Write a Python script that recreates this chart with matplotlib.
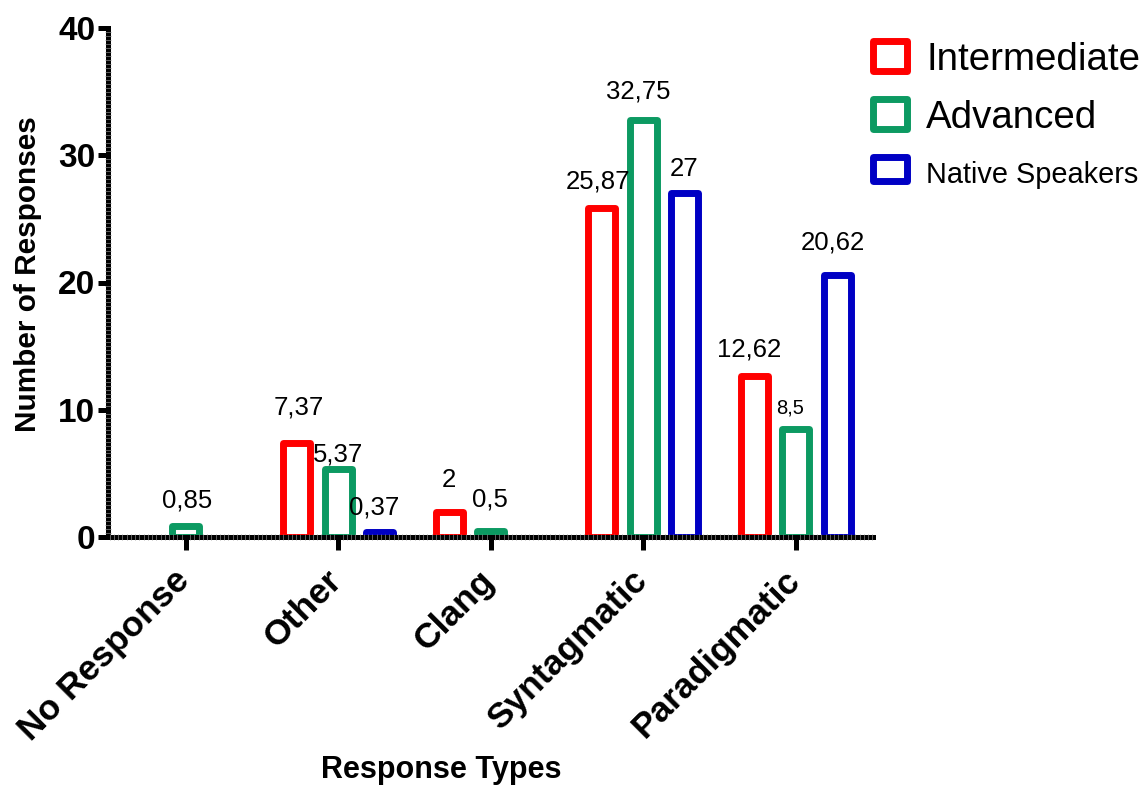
import numpy as np
import matplotlib
matplotlib.use("Agg")
import matplotlib.pyplot as plt
from matplotlib.patches import Rectangle
from matplotlib.ticker import MultipleLocator
from matplotlib.transforms import ScaledTranslation

plt.rcParams['font.family'] = ['Liberation Sans', 'DejaVu Sans']

categories = ["No Response", "Other", "Clang", "Syntagmatic", "Paradigmatic"]
series_names = ["Intermediate", "Advanced", "Native Speakers"]
intermediate = [0, 7.37, 2, 25.87, 12.62]
advanced = [0.85, 5.37, 0.5, 32.75, 8.5]
native = [0, 0.37, 0, 27, 20.62]
value_labels = [
    ["", "7,37", "2", "25,87", "12,62"],
    ["0,85", "5,37", "0,5", "32,75", "8,5"],
    ["", "0,37", "", "27", "20,62"],
]

colors = ["#FF0000", "#0C9A62", "#0000C4"]

# label offsets (pixels) from bar top centre
label_offsets = [
    [(0, 0), (2, 29), (-1, 25), (-4, 19), (-5, 20)],
    [(1.5, 19), (0, 7), (-1, 24), (-5, 22), (-6, 15)],
    [(0, 0), (-6, 18), (0, 0), (-0.5, 17), (-4.5, 25)],
]
label_sizes = [
    [18.5, 18.5, 18.5, 18.5, 18.5],
    [18.5, 18.5, 18.5, 18.5, 14.5],
    [18.5, 18.5, 18.5, 18.5, 18.5],
]

W, H = 1143, 785
fig = plt.figure(figsize=(W / 100, H / 100), dpi=100)
ax = fig.add_axes([108 / W, 1 - 537 / H, 765 / W, 509 / H])

series = [intermediate, advanced, native]
offsets = [-0.272, 0.0, 0.272]
bar_w = 0.177
lw = 5.0
x = np.arange(len(categories))

for si, vals in enumerate(series):
    vals = np.array(vals, dtype=float)
    mask = vals > 0
    bars = ax.bar(x[mask] + offsets[si], vals[mask], width=bar_w,
                  facecolor="white", edgecolor=colors[si], linewidth=lw, zorder=1)
    for b in bars:
        b.set_joinstyle("round")
    for ci in range(len(categories)):
        if vals[ci] > 0 and value_labels[si][ci]:
            dx, dy = label_offsets[si][ci]
            ax.annotate(value_labels[si][ci], xy=(x[ci] + offsets[si], vals[ci]),
                        xytext=(dx, dy), textcoords="offset pixels",
                        ha="center", va="baseline",
                        fontsize=label_sizes[si][ci], color="black",
                        annotation_clip=False)

ax.set_xlim(-0.511, 4.505)
ax.set_ylim(0, 40)

for side in ["top", "right"]:
    ax.spines[side].set_visible(False)
for side in ["left", "bottom"]:
    ax.spines[side].set_linewidth(3.6)
    ax.spines[side].set_color("black")
    ax.spines[side].set_capstyle("projecting")

ax.set_yticks([0, 10, 20, 30, 40])
ax.yaxis.set_minor_locator(MultipleLocator(10 / 32))
ax.tick_params(axis="y", which="major", direction="out", length=7, width=3.6,
               labelsize=24, pad=2)
ax.tick_params(axis="y", which="minor", direction="inout", length=5, width=0.5,
               color="#888888")
for t in ax.get_yticklabels():
    t.set_fontweight("bold")

ax.set_xticks(x)
ax.xaxis.set_minor_locator(MultipleLocator(1 / 36))
ax.tick_params(axis="x", which="major", direction="out", length=9, width=3.6,
               labelsize=25.5, pad=14)
ax.tick_params(axis="x", which="minor", direction="inout", length=5, width=0.5,
               color="#888888")
ax.set_xticklabels(categories, rotation=45, ha="right", va="top",
                   rotation_mode="anchor", fontweight="bold")
shift = ScaledTranslation(-13 / 100, 5 / 100, fig.dpi_scale_trans)
for t in ax.get_xticklabels():
    t.set_transform(t.get_transform() + shift)
ax.xaxis.set_zorder(3)
ax.yaxis.set_zorder(3)

fig.text(28 / W, 1 - 274 / H, "Number of Responses", rotation=90,
         ha="center", va="center", fontsize=21.4, fontweight="bold")
fig.text(441 / W, 1 - 778 / H, "Response Types", ha="center", va="baseline",
         fontsize=22, fontweight="bold")

# legend
leg_boxes = [(40.5, 70.5), (98.5, 128.5), (156.5, 180.5)]
leg_base = [70, 128, 183]
leg_sizes = [27.7, 27.7, 20.8]
for i, name in enumerate(series_names):
    top, bot = leg_boxes[i]
    r = Rectangle((872.5 / W, 1 - bot / H), 34 / W, (bot - top) / H,
                  transform=fig.transFigure, facecolor="white",
                  edgecolor=colors[i], linewidth=lw, joinstyle="round")
    fig.add_artist(r)
    fig.text(926 / W, 1 - leg_base[i] / H, name, ha="left", va="baseline",
             fontsize=leg_sizes[i])

fig.savefig("out.png", dpi=100)
